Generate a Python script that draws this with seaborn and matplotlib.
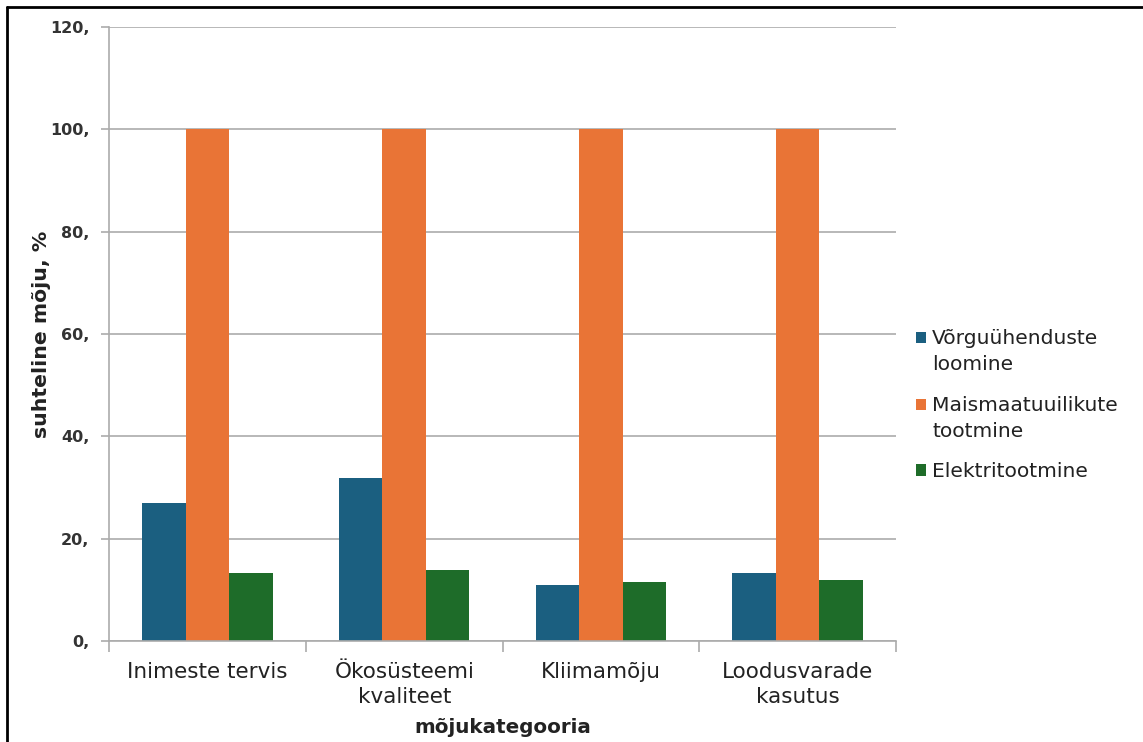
import matplotlib
matplotlib.use('Agg')
import matplotlib.pyplot as plt
import seaborn as sns
import pandas as pd
from matplotlib.lines import Line2D
from matplotlib.patches import Rectangle
from matplotlib.legend_handler import HandlerPatch
from matplotlib.ticker import FixedLocator, FuncFormatter

# andmed
categories = ['Inimeste tervis', 'Ökosüsteemi\nkvaliteet', 'Kliimamõju', 'Loodusvarade\nkasutus']
series = ['Võrguühenduste\nloomine', 'Maismaatuuilikute\ntootmine', 'Elektritootmine']
vorguuhendused = [27.0, 31.8, 10.9, 13.2]
maismaatuulikud = [100.0, 100.0, 100.0, 100.0]
elektritootmine = [13.2, 13.8, 11.6, 11.9]
y_ticks = [0, 20, 40, 60, 80, 100, 120]

colors = ['#1b5f80', '#e97436', '#1e6c29']
grid_color = '#ababab'
text_color = '#222222'
legend_size = 14.6
legend_linespacing = 1.5


class TopSquare(HandlerPatch):
    # ruut legendis esimese rea kõrgusel
    def __init__(self, shift):
        super().__init__()
        self.shift = shift

    def create_artists(self, legend, orig_handle, xdescent, ydescent,
                       width, height, fontsize, trans):
        p = Rectangle((-xdescent, -ydescent + self.shift * fontsize), width, height,
                      facecolor=orig_handle.get_facecolor(), edgecolor='none',
                      transform=trans)
        return [p]


rows = []
for name, vals in zip(series, [vorguuhendused, maismaatuulikud, elektritootmine]):
    for cat, v in zip(categories, vals):
        rows.append({'kategooria': cat, 'seeria': name, 'väärtus': v})
df = pd.DataFrame(rows)

sns.set_theme(style='white')
plt.rcParams['font.family'] = ['DejaVu Sans']

fig = plt.figure(figsize=(11.43, 7.42), dpi=100, facecolor='white')
ax = fig.add_axes([0.0954, 0.1361, 0.6886, 0.8275])

sns.barplot(data=df, x='kategooria', y='väärtus', hue='seeria', order=categories,
            hue_order=series, palette=colors, saturation=1, width=0.663,
            linewidth=0, ax=ax)

ax.set_xlim(-0.5, len(categories) - 0.5)
ax.set_ylim(0, 120)
ax.yaxis.set_major_locator(FixedLocator(y_ticks))
ax.yaxis.set_major_formatter(FuncFormatter(lambda v, p: f'{v:g},'))
ax.grid(True, axis='y', color=grid_color, linewidth=1.2)
ax.set_axisbelow(True)

ax.xaxis.set_minor_locator(FixedLocator([i - 0.5 for i in range(len(categories) + 1)]))
ax.tick_params(axis='x', which='major', length=0, pad=15, labelsize=15.5, labelcolor=text_color)
ax.tick_params(axis='x', which='minor', length=8, width=1.2, color=grid_color, bottom=True)
ax.tick_params(axis='y', length=6, width=1.2, color=grid_color, left=True, pad=8,
               labelsize=11.5, labelcolor='#333333')
for lbl in ax.get_yticklabels():
    lbl.set_fontweight('bold')
for lbl in ax.get_xticklabels():
    lbl.set_linespacing(1.35)

for s in ['top', 'right']:
    ax.spines[s].set_visible(False)
for s in ['left', 'bottom']:
    ax.spines[s].set_color(grid_color)
    ax.spines[s].set_linewidth(1.2)

ax.set_xlabel('mõjukategooria', fontsize=14.3, fontweight='bold', color=text_color, labelpad=7.5)
ax.set_ylabel('suhteline mõju, %', fontsize=14.7, fontweight='bold', color=text_color, labelpad=-1)

ax.get_legend().remove()
handles = [Rectangle((0, 0), 1, 1, facecolor=c) for c in colors]
hmap = {h: TopSquare(0.7 if '\n' in name else 0.0) for h, name in zip(handles, series)}
leg = fig.legend(handles, series, handler_map=hmap, loc='center left',
                 bbox_to_anchor=(0.7925, 0.454), frameon=False, fontsize=legend_size,
                 handlelength=0.5, handleheight=0.5, handletextpad=0.3,
                 labelspacing=1.05, borderpad=0, labelcolor=text_color)
for t in leg.get_texts():
    t.set_linespacing(legend_linespacing)

# raam pildi ümber
fig.add_artist(Line2D([0.0061, 0.0061], [0, 0.9906], transform=fig.transFigure,
                      color='black', linewidth=2))
fig.add_artist(Line2D([0.0061, 1.0], [0.9906, 0.9906], transform=fig.transFigure,
                      color='black', linewidth=2))

fig.savefig('out.png', dpi=100, facecolor='white')
